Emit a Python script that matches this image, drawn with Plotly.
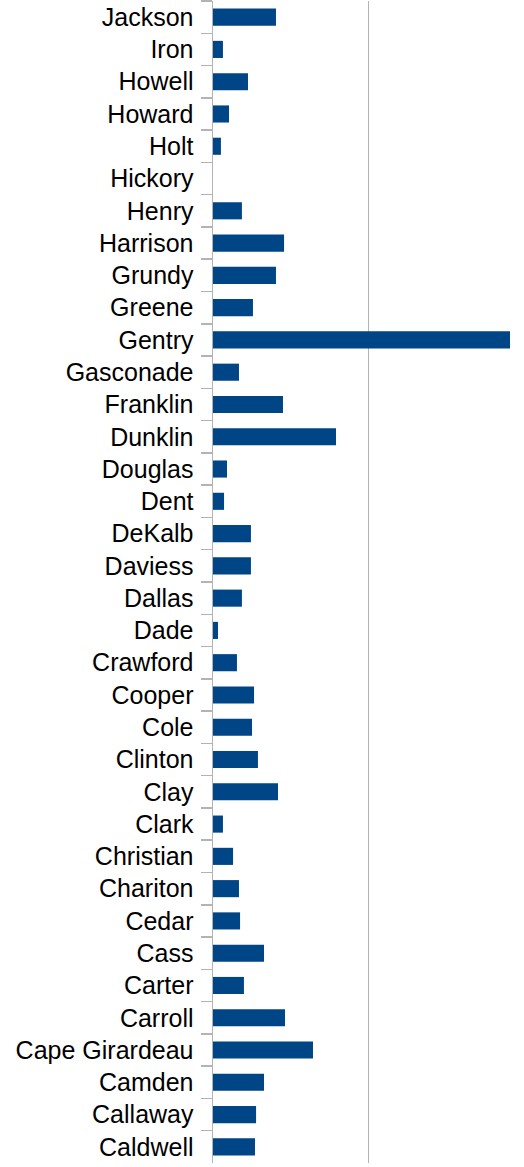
import plotly.graph_objects as go

counties = ["Jackson", "Iron", "Howell", "Howard", "Holt", "Hickory", "Henry", "Harrison",
            "Grundy", "Greene", "Gentry", "Gasconade", "Franklin", "Dunklin", "Douglas",
            "Dent", "DeKalb", "Daviess", "Dallas", "Dade", "Crawford", "Cooper", "Cole",
            "Clinton", "Clay", "Clark", "Christian", "Chariton", "Cedar", "Cass", "Carter",
            "Carroll", "Cape Girardeau", "Camden", "Callaway", "Caldwell"]
values = [4.05, 0.64, 2.25, 1.03, 0.51, 0.0, 1.86, 4.57,
          4.05, 2.57, 19.1, 1.67, 4.50, 7.91, 0.90,
          0.71, 2.44, 2.44, 1.86, 0.32, 1.54, 2.64, 2.51,
          2.89, 4.18, 0.64, 1.29, 1.67, 1.74, 3.28, 1.99,
          4.63, 6.43, 3.28, 2.77, 2.70]
x_range = [0, 20]
grid_step = 10

fig = go.Figure(go.Bar(
    x=values, y=counties, orientation="h",
    marker=dict(color="#004586", line=dict(width=0)),
    hoverinfo="skip",
))

n = len(counties)
fig.update_layout(
    width=524, height=1167,
    margin=dict(l=213, r=0, t=1, b=4, autoexpand=False),
    paper_bgcolor="white", plot_bgcolor="white",
    bargap=0.47,
    showlegend=False,
    hovermode=False,
    font=dict(family="Liberation Sans, Arial, sans-serif", size=25, color="black"),
)
fig.update_xaxes(
    range=x_range, dtick=grid_step, showticklabels=False,
    showgrid=True, gridcolor="#b3b3b3", gridwidth=1.5,
    zeroline=False, showline=False, ticks="", automargin=False,
)
fig.update_yaxes(
    type="category", range=[n - 0.5, -0.5], automargin=False,
    showline=True, linecolor="#b3b3b3", linewidth=1.5,
    ticks="outside", ticklen=11, tickwidth=1.5, tickcolor="#b3b3b3",
    tickson="boundaries", showgrid=False,
    tickfont=dict(family="Liberation Sans, Arial, sans-serif", size=25, color="black"),
    ticklabelstandoff=13,
)

fig.write_html(
    "out.html",
    config={"displayModeBar": False, "staticPlot": True},
    post_script="document.body.style.margin='0';document.body.style.overflow='hidden';",
)
